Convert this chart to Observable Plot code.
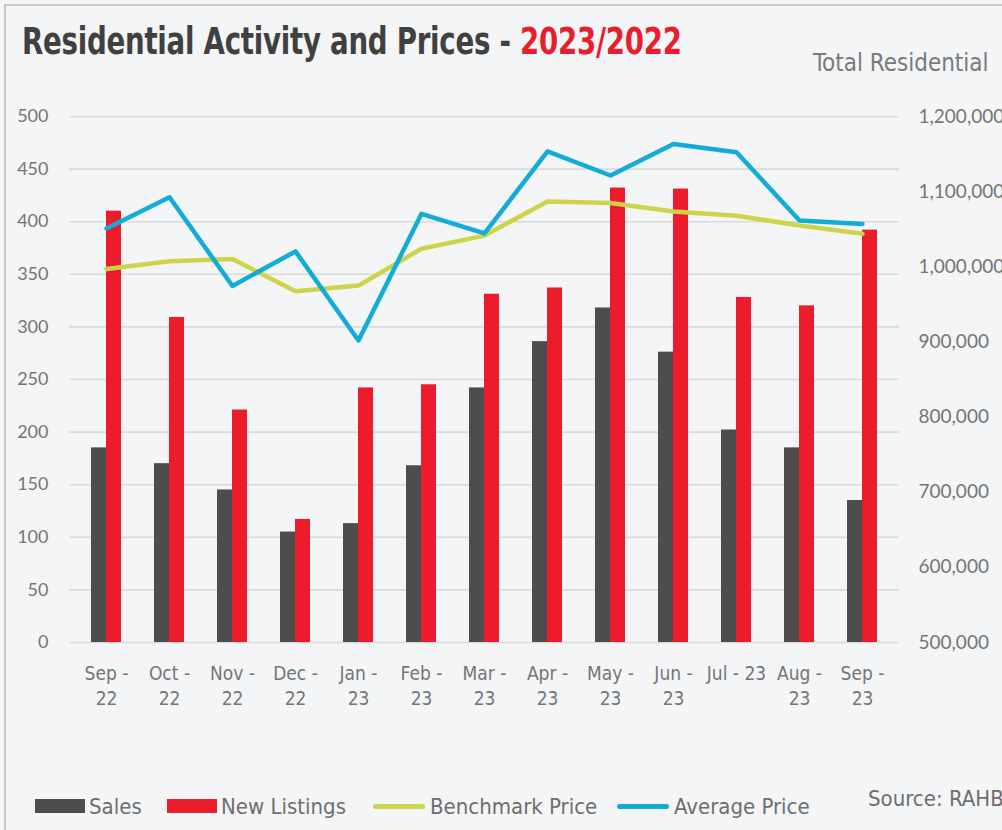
<!DOCTYPE html>
<html>
<head>
<meta charset="utf-8">
<script src="https://cdn.jsdelivr.net/npm/d3@7"></script>
<script src="https://cdn.jsdelivr.net/npm/@observablehq/plot@0.6"></script>
<style>
  html, body { margin: 0; padding: 0; background: #f4f5f7; }
  #wrap { position: relative; width: 1002px; height: 830px; overflow: hidden; background: #f4f5f7; }
  #frame { position: absolute; left: 4px; top: 4px; width: 1010px; height: 840px; border-left: 2px solid #c8c9cc; border-top: 2px solid #c8c9cc; }
  .narrow { font-family: "DejaVu Sans Condensed", "Liberation Sans Narrow", sans-serif; }
  #title { position: absolute; left: 22px; top: 20px; font-size: 37px; font-weight: bold; color: #404040; white-space: nowrap; transform: scaleX(0.83); transform-origin: left top; letter-spacing: -0.3px; }
  #title .yr { color: #e81e2e; }
  #subt { position: absolute; left: 813px; top: 47px; font-size: 25.5px; color: #7a7a7a; white-space: nowrap; transform: scaleX(0.94); transform-origin: left top; }
  .chart { position: absolute; left: 0; top: 100px; }
  .item { position: absolute; top: 792px; height: 28px; display: flex; align-items: center; font-size: 22px; color: #6e6e6e; white-space: nowrap; }
  .sw { width: 50px; height: 14px; margin-right: 4px; flex: none; }
  .ln { width: 52px; height: 5px; border-radius: 3px; margin-right: 5px; flex: none; }
  #source { position: absolute; left: 868px; top: 786px; font-size: 22px; color: #6e6e6e; white-space: nowrap; }
</style>
</head>
<body>
<div id="wrap">
  <div id="frame"></div>
  <div id="title" class="narrow">Residential Activity and Prices - <span class="yr">2023/2022</span></div>
  <div id="subt" class="narrow">Total Residential</div>
  <div id="bars" class="chart"></div>
  <div id="lines" class="chart"></div>
  <div id="legend"></div>
  <div id="source" class="narrow">Source: RAHB</div>
</div>
<script>
const months = ["Sep 22","Oct 22","Nov 22","Dec 22","Jan 23","Feb 23","Mar 23","Apr 23","May 23","Jun 23","Jul 23","Aug 23","Sep 23"];
const tickLabels = ["Sep -\n22","Oct -\n22","Nov -\n22","Dec -\n22","Jan -\n23","Feb -\n23","Mar -\n23","Apr -\n23","May -\n23","Jun -\n23","Jul - 23","Aug -\n23","Sep -\n23"];
const sales = [185,170,145,105,113,168,242,286,318,276,202,185,135];
const newListings = [410,309,221,117,242,245,331,337,432,431,328,320,392];
const benchmarkPrice = [997000,1007500,1010500,967500,975000,1024000,1041500,1087000,1085000,1073500,1068000,1055000,1044000];
const averagePrice = [1051000,1092500,974500,1020500,902000,1070500,1044500,1153500,1121500,1163500,1152500,1061500,1057000];
const leftTicks = [0,50,100,150,200,250,300,350,400,450,500];
const rightTicks = [500000,600000,700000,800000,900000,1000000,1100000,1200000];

const series = [
  {name: "Sales", color: "#4d4d4d", type: "bar"},
  {name: "New Listings", color: "#ec1c2d", type: "bar"},
  {name: "Benchmark Price", color: "#cdd44a", type: "line"},
  {name: "Average Price", color: "#12acd6", type: "line"}
];
const legendX = [35, 167, 373, 617];

const rows = months.map((m, i) => ({month: m, sales: sales[i], listings: newListings[i], bench: benchmarkPrice[i], avg: averagePrice[i]}));

const W = 1002, H = 622, MT = 16, MB = 80, ML = 69, MR = 103;
const n = months.length;
const step = (W - ML - MR) / n;
const pInner = 1 - 30 / step;
const xOpts = {domain: months, paddingInner: pInner, paddingOuter: pInner / 2};
const labelFont = '"DejaVu Sans Condensed", "Liberation Sans Narrow", sans-serif';

const bars = Plot.plot({
  width: W, height: H, marginTop: MT, marginBottom: MB, marginLeft: ML, marginRight: MR,
  style: {background: "transparent", overflow: "visible"},
  x: xOpts,
  y: {domain: [0, 500]},
  marks: [
    Plot.gridY(leftTicks, {stroke: "#d9dadc", strokeOpacity: 1, strokeWidth: 1.6}),
    Plot.barY(rows, {x: "month", y: "sales", fill: series[0].color, insetRight: 15}),
    Plot.barY(rows, {x: "month", y: "listings", fill: series[1].color, insetLeft: 15}),
    Plot.axisY(leftTicks, {anchor: "left", tickSize: 0, tickPadding: 21, fontSize: 18, fill: "#757575", fontFamily: "Lato", label: null}),
    Plot.axisX({tickSize: 0, tickPadding: 20, fontSize: 19, fill: "#757575", fontFamily: labelFont, lineHeight: 1.32, label: null,
      tickFormat: d => tickLabels[months.indexOf(d)]})
  ]
});
document.getElementById("bars").appendChild(bars);

const lines = Plot.plot({
  width: W, height: H, marginTop: MT, marginBottom: MB, marginLeft: ML, marginRight: MR,
  style: {background: "transparent", overflow: "visible"},
  x: {...xOpts, axis: null},
  y: {domain: [500000, 1200000]},
  marks: [
    Plot.axisY(rightTicks, {anchor: "right", tickSize: 0, tickPadding: 19, fontSize: 19, fill: "#757575", fontFamily: "Lato", label: null, tickFormat: d3.format(",")}),
    Plot.line(rows, {x: "month", y: "bench", stroke: series[2].color, strokeWidth: 4.5, strokeLinejoin: "round", strokeLinecap: "round"}),
    Plot.line(rows, {x: "month", y: "avg", stroke: series[3].color, strokeWidth: 4.5, strokeLinejoin: "round", strokeLinecap: "round"})
  ]
});
document.getElementById("lines").appendChild(lines);

const legend = document.getElementById("legend");
series.forEach((s, i) => {
  const it = document.createElement("div");
  it.className = "item narrow";
  it.style.left = legendX[i] + "px";
  const sw = document.createElement("div");
  sw.className = s.type === "bar" ? "sw" : "ln";
  sw.style.background = s.color;
  const t = document.createElement("span");
  t.textContent = s.name;
  it.appendChild(sw); it.appendChild(t);
  legend.appendChild(it);
});
</script>
</body>
</html>
